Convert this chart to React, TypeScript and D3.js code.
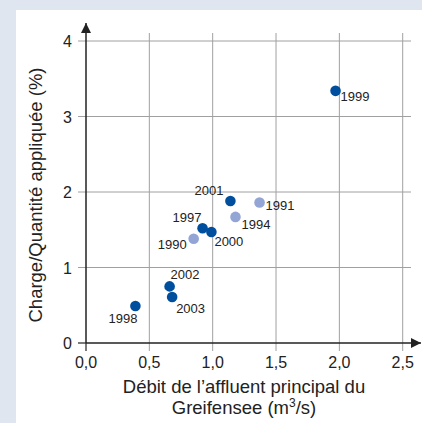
import * as d3 from 'd3';
import { useEffect, useRef } from 'react';

// values
const years = ['1990', '1991', '1994', '1997', '1998', '1999', '2000', '2001', '2002', '2003'];
const debit = [0.85, 1.37, 1.18, 0.92, 0.39, 1.97, 0.99, 1.14, 0.66, 0.68];
const charge = [1.38, 1.86, 1.67, 1.52, 0.49, 3.34, 1.47, 1.88, 0.75, 0.61];
const light = ['1990', '1991', '1994'];

const xTicks = [0, 0.5, 1, 1.5, 2, 2.5];
const yTicks = [0, 1, 2, 3, 4];

// label placement next to each dot (layout only: dx, dy, anchor)
const labelPos: Record<string, [number, number, string]> = {
    '1990': [-7, 10, 'end'],
    '1991': [6, 7, 'start'],
    '1994': [6, 12, 'start'],
    '1997': [-1, -6, 'end'],
    '1998': [2, 17, 'end'],
    '1999': [5, 10, 'start'],
    '2000': [3, 14, 'start'],
    '2001': [-7, -6, 'end'],
    '2002': [1, -7, 'start'],
    '2003': [4, 16, 'start'],
};

function App() {
    const svgRef = useRef<SVGSVGElement>(null);

    useEffect(() => {
        if (!svgRef.current) return;
        const svg = d3.select(svgRef.current);
        svg.selectAll('*').remove();

        const W = 422, H = 423;
        const font = '"Liberation Sans", Arial, Helvetica, sans-serif';
        const dark = '#004e9e';
        const pale = '#92a5d4';
        const grid = '#a0a0a0';
        const ink = '#222';

        svg.append('rect').attr('width', W).attr('height', H).attr('fill', '#dfe6f0');
        svg.append('rect').attr('x', 16).attr('y', 10).attr('width', W - 16).attr('height', H - 10).attr('fill', '#fff');

        const x = d3.scaleLinear().domain([0, 2.5]).range([86, 402.7]);
        const y = d3.scaleLinear().domain([0, 4]).range([343, 41]);

        const defs = svg.append('defs');
        defs.append('marker')
            .attr('id', 'arrow')
            .attr('viewBox', '0 0 10 10')
            .attr('refX', 10).attr('refY', 5)
            .attr('markerWidth', 11).attr('markerHeight', 10)
            .attr('markerUnits', 'userSpaceOnUse')
            .attr('orient', 'auto')
            .append('path')
            .attr('d', 'M0,0 L10,5 L0,10 Z')
            .attr('fill', '#222');

        // grid
        const g = svg.append('g');
        g.selectAll('.vgrid')
            .data(xTicks.slice(1))
            .enter().append('line')
            .attr('x1', d => x(d)).attr('x2', d => x(d))
            .attr('y1', 33).attr('y2', y(0) + 8)
            .attr('stroke', grid).attr('stroke-width', 1);
        g.append('line')
            .attr('x1', x(0)).attr('x2', x(0))
            .attr('y1', y(0)).attr('y2', y(0) + 8)
            .attr('stroke', '#222').attr('stroke-width', 1.2);
        g.selectAll('.hgrid')
            .data(yTicks.slice(1))
            .enter().append('line')
            .attr('x1', x(0) - 8).attr('x2', 411)
            .attr('y1', d => y(d)).attr('y2', d => y(d))
            .attr('stroke', grid).attr('stroke-width', 1);
        g.append('line')
            .attr('x1', x(0) - 8).attr('x2', x(0))
            .attr('y1', y(0)).attr('y2', y(0))
            .attr('stroke', '#222').attr('stroke-width', 1.2);

        // axes with arrows
        svg.append('line')
            .attr('x1', x(0)).attr('x2', x(0))
            .attr('y1', y(0)).attr('y2', 23)
            .attr('stroke', '#222').attr('stroke-width', 1.5)
            .attr('marker-end', 'url(#arrow)');
        svg.append('line')
            .attr('x1', x(0)).attr('x2', 421)
            .attr('y1', y(0)).attr('y2', y(0))
            .attr('stroke', '#222').attr('stroke-width', 1.5)
            .attr('marker-end', 'url(#arrow)');

        // tick labels
        svg.selectAll('.xlab')
            .data(xTicks)
            .enter().append('text')
            .attr('x', d => x(d)).attr('y', y(0) + 25)
            .attr('text-anchor', 'middle')
            .attr('font-family', font).attr('font-size', 16).attr('fill', ink)
            .text(d => d3.format('.1f')(d).replace('.', ','));
        svg.selectAll('.ylab')
            .data(yTicks)
            .enter().append('text')
            .attr('x', x(0) - 14).attr('y', d => y(d) + 6)
            .attr('text-anchor', 'end')
            .attr('font-family', font).attr('font-size', 16).attr('fill', ink)
            .text(d => String(d));

        // axis titles
        const xt = svg.append('text')
            .attr('text-anchor', 'middle')
            .attr('font-family', font).attr('font-size', 18.5).attr('fill', ink);
        xt.append('tspan').attr('x', 244).attr('y', 393).text('Débit de l’affluent principal du');
        const l2 = xt.append('tspan').attr('x', 244).attr('y', 414);
        l2.append('tspan').text('Greifensee (m');
        l2.append('tspan').attr('font-size', 12).attr('dy', -7).text('3');
        l2.append('tspan').attr('dy', 7).text('/s)');

        svg.append('text')
            .attr('transform', 'translate(42,195) rotate(-90)')
            .attr('text-anchor', 'middle')
            .attr('font-family', font).attr('font-size', 18.5).attr('fill', ink)
            .text('Charge/Quantité appliquée (%)');

        // points
        const pts = years.map((yr, i) => ({ yr, dx: debit[i], ch: charge[i] }));
        svg.selectAll('.dot')
            .data(pts)
            .enter().append('circle')
            .attr('cx', d => x(d.dx)).attr('cy', d => y(d.ch))
            .attr('r', 5.3)
            .attr('fill', d => light.includes(d.yr) ? pale : dark);

        svg.selectAll('.lab')
            .data(pts)
            .enter().append('text')
            .attr('x', d => x(d.dx) + labelPos[d.yr][0])
            .attr('y', d => y(d.ch) + labelPos[d.yr][1])
            .attr('text-anchor', d => labelPos[d.yr][2])
            .attr('font-family', font).attr('font-size', 13).attr('fill', ink)
            .text(d => d.yr);

        return () => { svg.selectAll('*').remove(); };
    }, []);

    return (
        <div style={{ position: 'absolute', left: 0, top: 0 }}>
            <svg ref={svgRef} width={422} height={423} style={{ display: 'block' }} />
        </div>
    );
}

export default App;
